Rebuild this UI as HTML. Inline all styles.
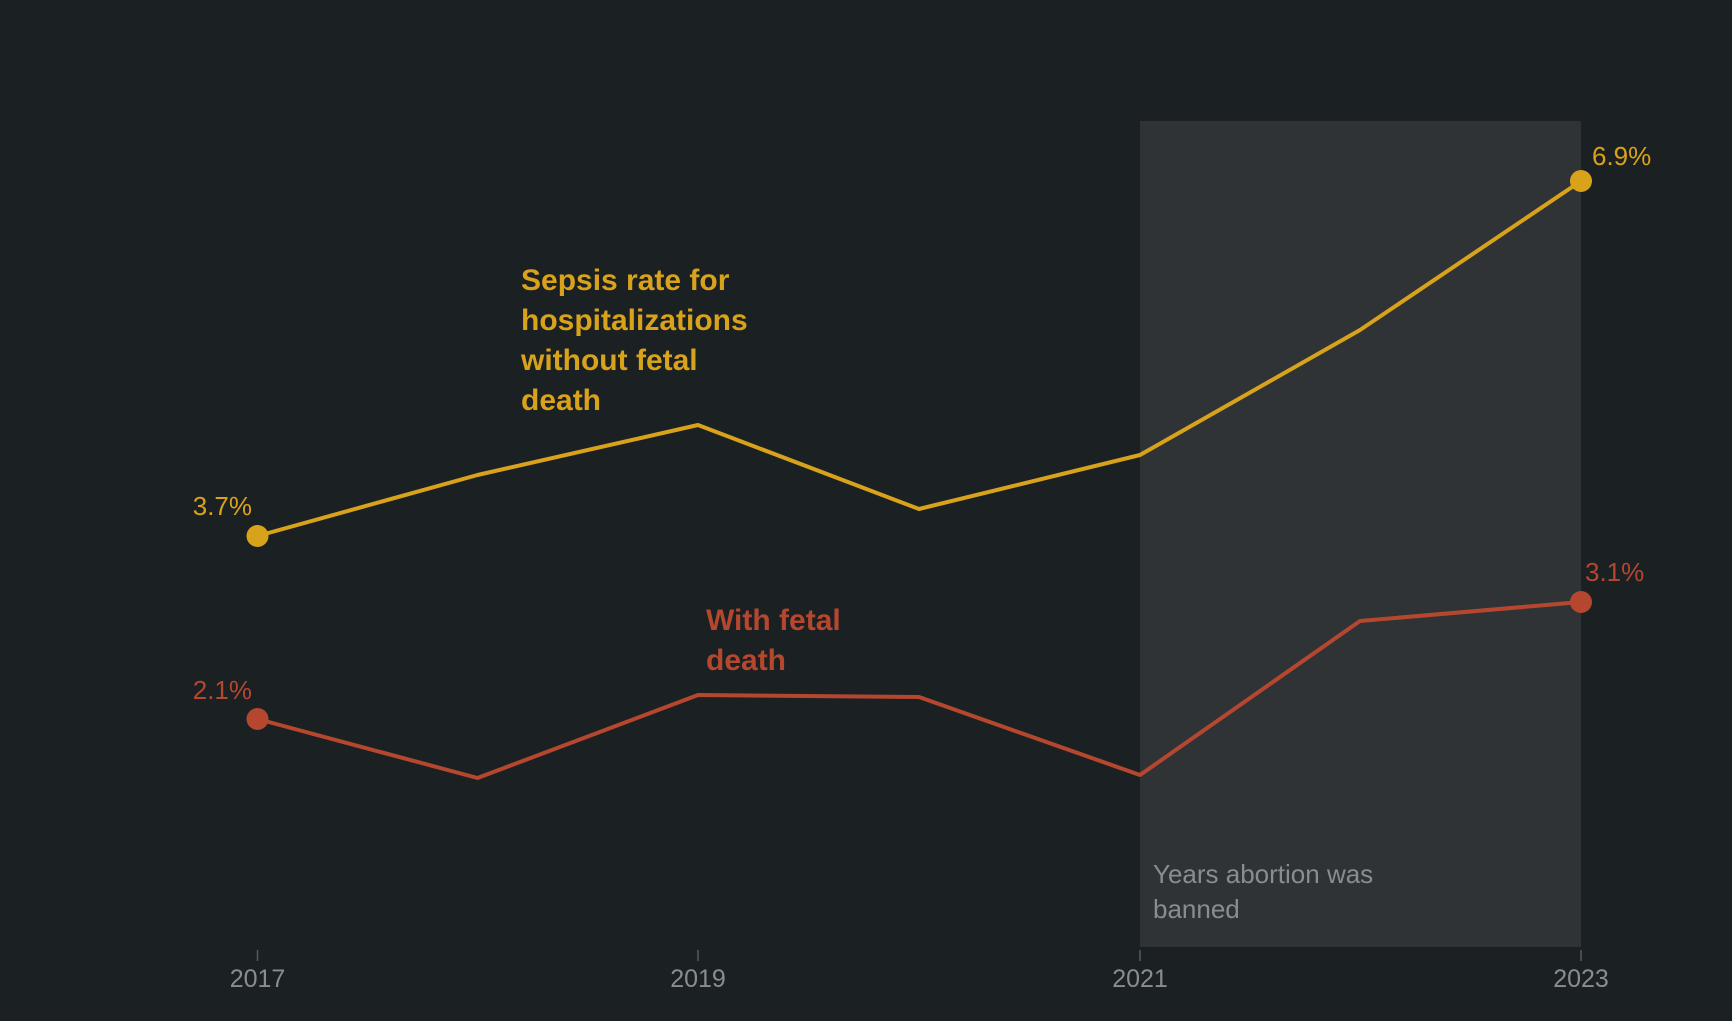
<!DOCTYPE html>
<html><head><meta charset="utf-8"><style>
html,body{margin:0;padding:0;background:#1b2023;}
svg{display:block;}
text{font-family:"Liberation Sans",sans-serif;}
</style></head><body>
<svg width="1732" height="1021" viewBox="0 0 1732 1021" xmlns="http://www.w3.org/2000/svg">
<rect width="1732" height="1021" fill="#1b2023"/>
<rect x="1140" y="121" width="441" height="826" fill="#2f3336"/>
<g stroke="#555a5e" stroke-width="1.5">
<line x1="257.5" y1="950" x2="257.5" y2="961"/>
<line x1="698" y1="950" x2="698" y2="961"/>
<line x1="1140" y1="950" x2="1140" y2="961"/>
<line x1="1581" y1="950" x2="1581" y2="961"/>
</g>
<g fill="#8a8d90" font-size="25" text-anchor="middle">
<text x="257.5" y="987">2017</text>
<text x="698" y="987">2019</text>
<text x="1140" y="987">2021</text>
<text x="1581" y="987">2023</text>
</g>
<polyline fill="none" stroke="#d9a21b" stroke-width="4" stroke-linejoin="round" points="257.5,536 477.5,475 698,425 919,509 1140,455 1360,330 1581,181"/>
<polyline fill="none" stroke="#b5472f" stroke-width="4" stroke-linejoin="round" points="257.5,719 477.5,778 698,695 919,697 1140,775 1360,621 1581,602"/>
<circle cx="257.5" cy="536" r="11" fill="#d9a21b"/>
<circle cx="1581" cy="181" r="11" fill="#d9a21b"/>
<circle cx="257.5" cy="719" r="11" fill="#b5472f"/>
<circle cx="1581" cy="602" r="11" fill="#b5472f"/>
<g font-size="26">
<text x="252" y="515" fill="#d9a21b" text-anchor="end">3.7%</text>
<text x="1592" y="165" fill="#d9a21b">6.9%</text>
<text x="252" y="699" fill="#b5472f" text-anchor="end">2.1%</text>
<text x="1585" y="581" fill="#b5472f">3.1%</text>
</g>
<g font-size="30" font-weight="bold" fill="#d9a21b">
<text x="521" y="290">Sepsis rate for</text>
<text x="521" y="330">hospitalizations</text>
<text x="521" y="370">without fetal</text>
<text x="521" y="410">death</text>
</g>
<g font-size="30" font-weight="bold" fill="#b5472f">
<text x="706" y="630">With fetal</text>
<text x="706" y="670">death</text>
</g>
<g font-size="26" fill="#8a8d90">
<text x="1153" y="883">Years abortion was</text>
<text x="1153" y="918">banned</text>
</g>
</svg>
</body></html>
